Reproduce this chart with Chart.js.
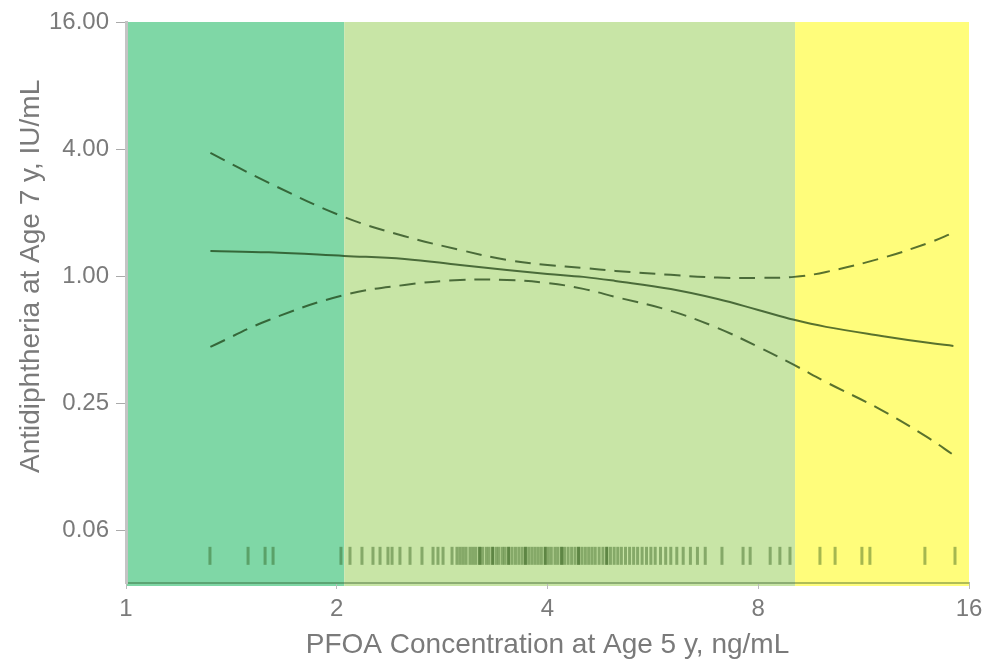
<!DOCTYPE html>
<html>
<head>
<meta charset="utf-8">
<script src="https://cdn.jsdelivr.net/npm/chart.js@4.4.1/dist/chart.umd.min.js"></script>
<style>
  html, body { margin: 0; padding: 0; background: #fff; }
  #wrap { width: 984px; height: 664px; }
</style>
</head>
<body>
<div id="wrap"><canvas id="chart" width="984" height="664"></canvas></div>
<script>
// PFOA at age 5 (ng/mL) where the curves were read
const pfoa = [1.32, 1.6, 2.05, 2.5, 3, 3.5, 4, 4.5, 5, 6, 7, 8, 9, 10, 12, 14, 15.2];
// antidiphtheria antibody at age 7 (IU/mL)
const estimate = [1.32, 1.30, 1.25, 1.21, 1.133, 1.073, 1.028, 0.995, 0.952, 0.872, 0.782, 0.694, 0.623, 0.577, 0.523, 0.485, 0.469];
const upperCI  = [3.84, 2.77, 1.91, 1.55, 1.335, 1.197, 1.133, 1.097, 1.062, 1.017, 0.987, 0.984, 0.995, 1.05, 1.22, 1.44, 1.61];
const lowerCI  = [0.464, 0.622, 0.817, 0.911, 0.962, 0.962, 0.931, 0.873, 0.80, 0.687, 0.57, 0.464, 0.381, 0.316, 0.233, 0.172, 0.143];

// observed exposures shown as a rug along the bottom
const rugX = [
  1.318, 1.494, 1.58, 1.622, 2.028, 2.089, 2.173, 2.253, 2.306, 2.367, 2.399, 2.462, 2.545, 2.647, 2.745, 2.79, 2.837, 2.922,
  2.97, 3.0, 3.03, 3.06, 3.1, 3.13, 3.16, 3.2, 3.2, 3.23, 3.27, 3.3, 3.34, 3.34, 3.38, 3.41, 3.45, 3.48, 3.52, 3.52, 3.56, 3.6,
  3.64, 3.68, 3.72, 3.72, 3.76, 3.8, 3.84, 3.88, 3.92, 3.97, 3.97, 4.01, 4.05, 4.1, 4.14, 4.19, 4.19, 4.23, 4.28, 4.33, 4.38,
  4.43, 4.43, 4.48, 4.53, 4.58, 4.63, 4.68, 4.74, 4.8, 4.86, 4.86, 4.92, 4.98, 5.04, 5.1, 5.17, 5.24, 5.31, 5.38, 5.46, 5.54,
  5.62, 5.7, 5.8, 5.9, 6.0, 6.12, 6.25, 6.4, 6.55, 6.72, 7.1, 7.61, 7.79, 8.32, 8.59, 8.88, 9.8, 10.3, 11.25, 11.55, 13.84, 15.28
];
const rugLevel = 0.0476;

// exposure bands behind the plot
const bandEdges = [1, 2.05, 9.03, 16];
const bandColors = ['#7fd7a6', '#c8e5a6', '#fffd7b'];

const xTicks = [1, 2, 4, 8, 16];
const xTickLabels = ['1', '2', '4', '8', '16'];
const yTicks = [16, 4, 1, 0.25, 0.0625];
const yTickLabels = ['16.00', '4.00', '1.00', '0.25', '0.06'];

const xTitle = 'PFOA Concentration at Age 5 y, ng/mL';
const yTitle = 'Antidiphtheria at Age 7 y, IU/mL';

const lineColor = 'rgba(25,60,15,0.72)';
const textColor = '#7a7a7a';
const font = '"Liberation Sans", Arial, Helvetica, sans-serif';

const pts = arr => pfoa.map((x, i) => ({ x, y: arr[i] }));

const bandsPlugin = {
    id: 'bands',
    beforeDraw(chart) {
        const { ctx, chartArea: a, scales: { x } } = chart;
        ctx.save();
        for (let i = 0; i < bandColors.length; i++) {
            const x0 = x.getPixelForValue(bandEdges[i]);
            const x1 = x.getPixelForValue(bandEdges[i + 1]);
            ctx.fillStyle = bandColors[i];
            ctx.fillRect(x0, a.top, x1 - x0, a.bottom - a.top + 3);
        }
        ctx.restore();
    }
};

const titlesPlugin = {
    id: 'titles',
    afterDraw(chart) {
        const { ctx, chartArea: a, scales: { y } } = chart;
        ctx.save();
        ctx.fillStyle = textColor;
        ctx.font = '28px ' + font;
        ctx.textAlign = 'center';
        ctx.textBaseline = 'middle';
        ctx.fillText(xTitle, (a.left + a.right) / 2, 645);
        ctx.translate(31, y.getPixelForValue(1));
        ctx.rotate(-Math.PI / 2);
        ctx.fillText(yTitle, 0, 0);
        ctx.restore();
    }
};

const curve = { showLine: true, borderColor: lineColor, borderWidth: 2, pointRadius: 0, tension: 0.4 };

new Chart(document.getElementById('chart'), {
    type: 'scatter',
    data: {
        datasets: [
            { ...curve, data: pts(estimate) },
            { ...curve, data: pts(upperCI), borderDash: [16, 9] },
            { ...curve, data: pts(lowerCI), borderDash: [16, 9] },
            { data: rugX.map(x => ({ x, y: rugLevel })), showLine: false, pointStyle: 'line', rotation: 90, pointRadius: 9,
              borderColor: 'rgba(40,85,20,0.42)', borderWidth: 3, backgroundColor: 'transparent' }
        ]
    },
    options: {
        responsive: false,
        animation: false,
        events: [],
        layout: { padding: { top: 22, right: 15, left: 0, bottom: 0 } },
        plugins: { legend: { display: false }, tooltip: { enabled: false } },
        scales: {
            x: {
                type: 'logarithmic', min: 1, max: 16,
                afterFit: s => { s.height = 81; s.paddingLeft = 0; s.paddingRight = 0; },
                afterBuildTicks: s => { s.ticks = xTicks.map(v => ({ value: v })); },
                ticks: { autoSkip: false, maxRotation: 0, padding: 6, color: textColor,
                         font: { family: font, size: 24 }, callback: (v, i) => xTickLabels[i] },
                grid: { drawOnChartArea: false, tickLength: 6, tickColor: '#bbb' },
                border: { color: 'rgba(30,70,20,0.35)', width: 2 }
            },
            y: {
                type: 'logarithmic', min: 0.0354, max: 16,
                afterFit: s => { s.width = 126; s.paddingTop = 0; s.paddingBottom = 0; },
                afterBuildTicks: s => { s.ticks = yTicks.map(v => ({ value: v })); },
                ticks: { autoSkip: false, padding: 7, color: textColor,
                         font: { family: font, size: 24 }, callback: (v, i) => yTickLabels[i] },
                grid: { drawOnChartArea: false, tickLength: 10, tickColor: '#aaa' },
                border: { color: '#c4c4c4', width: 3 }
            }
        }
    },
    plugins: [bandsPlugin, titlesPlugin]
});
</script>
</body>
</html>
